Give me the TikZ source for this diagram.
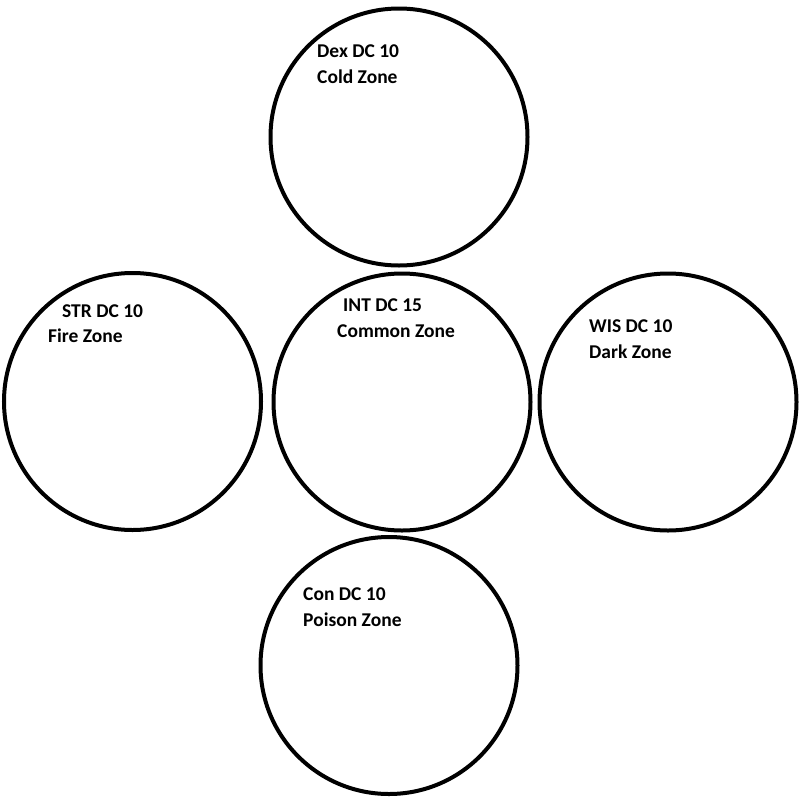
\documentclass[tikz,border=0pt]{standalone}
\usepackage{fontspec}
\setmainfont{Carlito}
\begin{document}
\begin{tikzpicture}[x=1pt,y=-1pt,
  zone/.style={draw=black,line width=4pt,circle,minimum size=257pt,inner sep=0pt},
  lbl/.style={anchor=base west,inner sep=0pt,font=\fontsize{19.5pt}{23pt}\selectfont\bfseries}]
\useasboundingbox[fill=white] (0,0) rectangle (806,806);
\node[zone] (cold) at (399,137) {};
\node[zone] (fire) at (132.5,401.5) {};
\node[zone] (common) at (402,402) {};
\node[zone] (dark) at (668,402) {};
\node[zone] (poison) at (389,665.5) {};
\node[lbl] (coldA) at (317,57) {Dex DC 10};
\node[lbl] (coldB) at (317,83) {Cold Zone};
\node[lbl] (fireA) at (62,317) {STR DC 10};
\node[lbl] (fireB) at (48,342.5) {Fire Zone};
\node[lbl] (commonA) at (343,311) {INT DC 15};
\node[lbl] (commonB) at (337,337) {Common Zone};
\node[lbl] (darkA) at (589,332) {WIS DC 10};
\node[lbl] (darkB) at (589,358) {Dark Zone};
\node[lbl] (poisonA) at (303,600) {Con DC 10};
\node[lbl] (poisonB) at (303,626) {Poison Zone};
\end{tikzpicture}
\end{document}
